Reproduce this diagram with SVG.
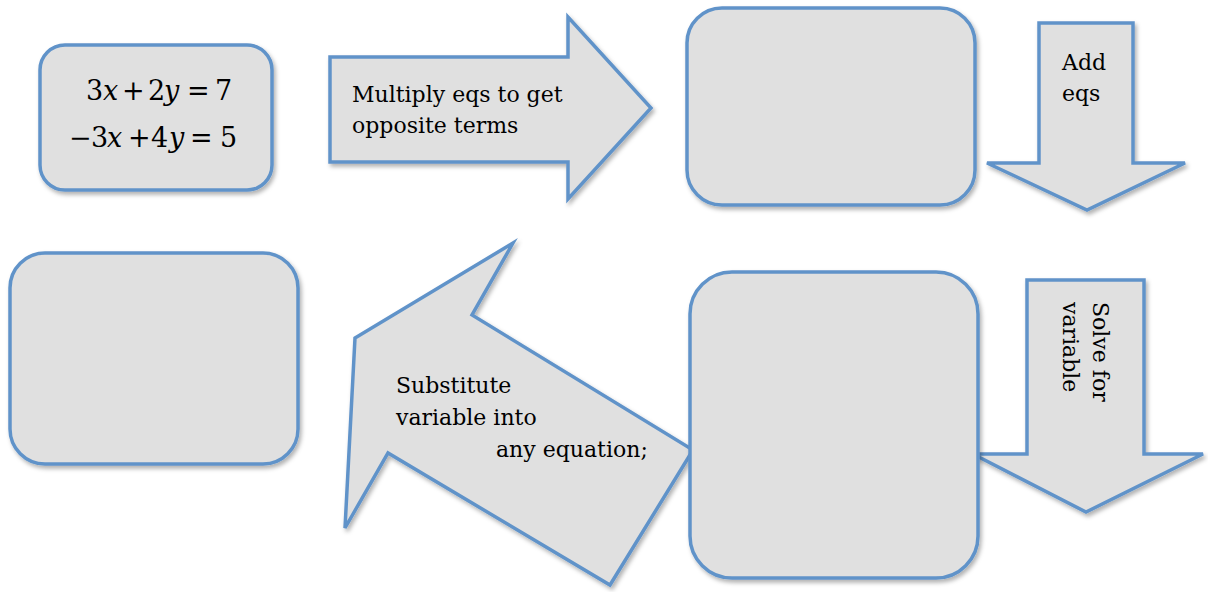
<svg xmlns="http://www.w3.org/2000/svg" width="1208" height="592" viewBox="0 0 1208 592">
<style>
.shape{fill:#e0e0e0;stroke:#6193c9;stroke-width:3.5;stroke-linejoin:miter;filter:url(#sh)}
.lbl{font-family:"DejaVu Serif","Liberation Serif",serif;font-size:22px;fill:#000}
.eq{font-family:"DejaVu Serif","Liberation Serif",serif;font-size:27px;fill:#000}
.it{font-style:italic}
</style>
<defs>
<filter id="sh" x="-10%" y="-10%" width="130%" height="130%">
<feDropShadow dx="2" dy="3" stdDeviation="2" flood-color="#000" flood-opacity="0.3"/>
</filter>
</defs>
<rect width="1208" height="592" fill="#fff"/>
<g id="connectors">
<g id="arrow-multiply">
<polygon class="shape" points="330,57 568,57 568,17 651,108 568,199 568,162 330,162"/>
<text class="lbl" x="352" y="102">Multiply eqs to get</text>
<text class="lbl" x="352" y="133">opposite terms</text>
</g>
<g id="arrow-add">
<polygon class="shape" points="1039,23 1133,23 1133,163 1185,163 1087,210 987,163 1039,163"/>
<text class="lbl" x="1062" y="70">Add</text>
<text class="lbl" x="1062" y="101">eqs</text>
</g>
<g id="arrow-solve">
<polygon class="shape" points="1027,280 1144,280 1144,454 1203,454 1086,512 973,454 1027,454"/>
<text class="lbl" transform="translate(1093,302) rotate(90)" x="0" y="0">Solve for</text>
<text class="lbl" transform="translate(1063,302) rotate(90)" x="0" y="0">variable</text>
</g>
<g id="arrow-substitute">
<polygon class="shape" points="513,243 472,315 693,450 610,585 388,453 345,528 355,338"/>
<text class="lbl" x="396" y="393">Substitute</text>
<text class="lbl" x="396" y="425">variable into</text>
<text class="lbl" x="496" y="457">any equation;</text>
</g>
</g>
<g id="node-equations">
<rect class="shape" x="40" y="45" width="232" height="145" rx="25"/>
<text class="eq" y="100"><tspan x="86">3</tspan><tspan class="it" x="103">x</tspan><tspan x="122">+</tspan><tspan x="148">2</tspan><tspan class="it" x="164">y</tspan><tspan x="187">=</tspan><tspan x="215">7</tspan></text>
<text class="eq" y="147"><tspan x="69">−</tspan><tspan x="91">3</tspan><tspan class="it" x="107">x</tspan><tspan x="128">+</tspan><tspan x="151">4</tspan><tspan class="it" x="169">y</tspan><tspan x="190">=</tspan><tspan x="220">5</tspan></text>
</g>
<g id="node-combined">
<rect class="shape" x="687" y="8" width="288" height="197" rx="35"/>
</g>
<g id="node-solved">
<rect class="shape" x="690" y="272" width="288" height="306" rx="42"/>
</g>
<g id="node-result">
<rect class="shape" x="10" y="253" width="288" height="211" rx="35"/>
</g>
</svg>
